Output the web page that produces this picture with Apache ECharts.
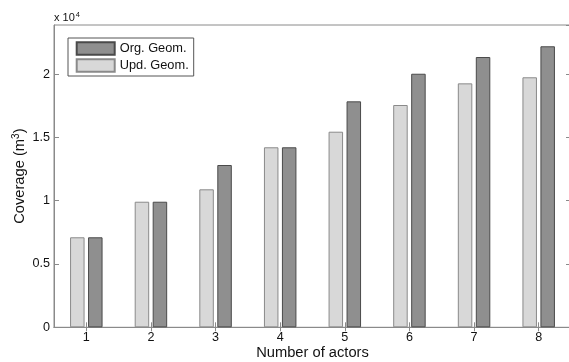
<!DOCTYPE html>
<html>
<head>
<meta charset="utf-8">
<script src="https://cdn.jsdelivr.net/npm/echarts@6/dist/echarts.min.js"></script>
<style>
html,body{margin:0;padding:0;background:#fff;}
#c{width:569px;height:362px;}
</style>
</head>
<body>
<div id="c"></div>
<script>
// Data (coverage in m^3)
const categories = ['1', '2', '3', '4', '5', '6', '7', '8'];
const updGeom = [7110, 9920, 10900, 14220, 15450, 17560, 19270, 19750];
const orgGeom = [7110, 9920, 12820, 14220, 17850, 20030, 21350, 22200];
const seriesNames = ['Org. Geom.', 'Upd. Geom.'];
const yTicks = [0, 5000, 10000, 15000, 20000];

const FONT = '"Liberation Sans", Arial, Helvetica, sans-serif';
const AX = '#8a8a8a';
const YMAX = 23880;

const chart = echarts.init(document.getElementById('c'), null, {renderer: 'canvas'});
chart.setOption({
  animation: false,
  backgroundColor: '#ffffff',
  textStyle: {fontFamily: FONT},
  grid: {left: 54, top: 25, width: 517, height: 302.3, show: true, borderColor: AX, borderWidth: 1,
    backgroundColor: 'transparent', containLabel: false, outerBoundsMode: 'none'},
  legend: {
    orient: 'vertical',
    left: 68, top: 38,
    data: seriesNames,
    itemWidth: 38, itemHeight: 12.6, itemGap: 2,
    padding: [3, 5, 3, 7.7],
    borderColor: '#555', borderWidth: 1, backgroundColor: '#fff',
    textStyle: {fontFamily: FONT, fontSize: 12.8, color: '#111', lineHeight: 15},
    icon: 'rect'
  },
  xAxis: [{
    type: 'category', data: categories, position: 'bottom',
    name: 'Number of actors', nameLocation: 'middle', nameGap: 18, nameMoveOverlap: false,
    nameTextStyle: {fontFamily: FONT, fontSize: 14.7, color: '#111', verticalAlign: 'top'},
    axisLine: {show: true, lineStyle: {color: AX}},
    axisTick: {show: true, inside: true, alignWithLabel: true, length: 5, lineStyle: {color: AX}},
    axisLabel: {fontFamily: FONT, fontSize: 12.6, color: '#111', margin: 4},
    splitLine: {show: false}
  }, {
    type: 'category', data: categories, position: 'top',
    axisLine: {show: true, lineStyle: {color: AX}},
    axisTick: {show: true, inside: true, alignWithLabel: true, length: 4, lineStyle: {color: AX}},
    axisLabel: {show: false},
    splitLine: {show: false}
  }],
  yAxis: [{
    type: 'value', min: 0, max: YMAX, interval: 5000, position: 'left',
    name: 'Coverage (m{sup|3})', nameLocation: 'middle', nameGap: 26, nameMoveOverlap: false,
    nameTextStyle: {fontFamily: FONT, fontSize: 14.7, color: '#111',
      rich: {sup: {fontFamily: FONT, fontSize: 10, color: '#111', verticalAlign: 'top', padding: [0, 0, 7, 0]}}},
    axisLine: {show: true, lineStyle: {color: AX}},
    axisTick: {show: true, inside: true, length: 5, lineStyle: {color: AX}},
    axisLabel: {fontFamily: FONT, fontSize: 12.6, color: '#111', margin: 4, showMaxLabel: false,
      formatter: v => (yTicks.indexOf(v) >= 0 ? String(v / 10000) : '')},
    splitLine: {show: false}
  }, {
    type: 'value', min: 0, max: YMAX, interval: 5000, position: 'right',
    axisLine: {show: true, lineStyle: {color: AX}},
    axisTick: {show: true, inside: true, length: 5, lineStyle: {color: AX}},
    axisLabel: {show: false},
    splitLine: {show: false}
  }],
  graphic: [{
    type: 'text', left: 54, top: 11,
    style: {
      text: '{a|x 10}{b|4}',
      rich: {
        a: {fontFamily: FONT, fontSize: 11, fill: '#111', color: '#111'},
        b: {fontFamily: FONT, fontSize: 7.5, fill: '#111', color: '#111', verticalAlign: 'top', padding: [0, 0, 5, 1]}
      }
    }
  }],
  series: [{
    name: seriesNames[1], type: 'bar', data: updGeom,
    barWidth: 14.5, barGap: '24%',
    itemStyle: {color: '#d8d8d8', borderColor: '#8a8a8a', borderWidth: 1}
  }, {
    name: seriesNames[0], type: 'bar', data: orgGeom,
    barWidth: 14.5, barGap: '24%',
    itemStyle: {color: '#8f8f8f', borderColor: '#4a4a4a', borderWidth: 1}
  }]
});
</script>
</body>
</html>
